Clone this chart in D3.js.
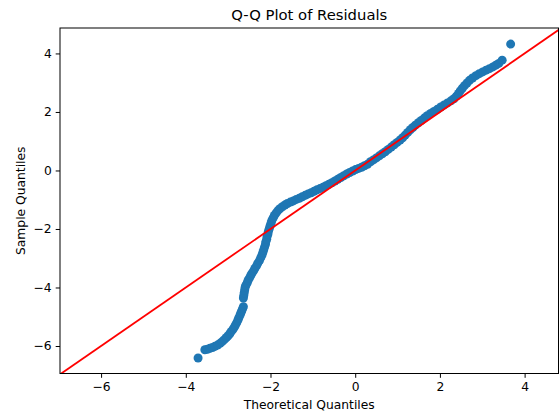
<!DOCTYPE html>
<html>
<head>
<meta charset="utf-8">
<script src="https://cdn.jsdelivr.net/npm/d3@7"></script>
<style>
body { margin: 0; background: #fff; }
svg text { font-family: 'DejaVu Sans', sans-serif; fill: #000; }
</style>
</head>
<body>
<script>
(function(document, window){
'use strict';

// sorted residuals against normal quantiles
var theoreticalQ = [-3.71, -3.55, -3.49, -3.43, -3.37, -3.31, -3.25, -3.19, -3.14, -3.09,
	-3.04, -3.00, -2.96, -2.93, -2.89, -2.86, -2.83, -2.80, -2.77, -2.75,
	-2.72, -2.70, -2.68, -2.66, -2.64, -2.64, -2.63, -2.62, -2.61, -2.60,
	-2.58, -2.55, -2.53, -2.50, -2.47, -2.44, -2.40, -2.37, -2.33, -2.30,
	-2.26, -2.23, -2.20, -2.18, -2.16, -2.14, -2.12, -2.11, -2.09, -2.08,
	-2.06, -2.05, -2.03, -2.01, -1.99, -1.97, -1.94, -1.91, -1.87, -1.83,
	-1.78, -1.72, -1.66, -1.60, -1.53, -1.46, -1.39, -1.32, -1.25, -1.18,
	-1.11, -1.04, -0.97, -0.90, -0.83, -0.76, -0.69, -0.62, -0.55, -0.48,
	-0.41, -0.34, -0.27, -0.20, -0.13, -0.06, 0.01, 0.08, 0.15, 0.22,
	0.29, 0.36, 0.43, 0.50, 0.57, 0.64, 0.71, 0.78, 0.85, 0.92,
	0.99, 1.06, 1.12, 1.18, 1.24, 1.30, 1.36, 1.42, 1.49, 1.56,
	1.63, 1.70, 1.78, 1.86, 1.94, 2.02, 2.10, 2.18, 2.26, 2.33,
	2.39, 2.44, 2.48, 2.53, 2.58, 2.64, 2.70, 2.77, 2.85, 2.93,
	3.01, 3.09, 3.17, 3.25, 3.32, 3.39, 3.47, 3.67];

var sampleQ = [-6.41, -6.13, -6.11, -6.08, -6.05, -6.01, -5.97, -5.91, -5.85, -5.78,
	-5.71, -5.65, -5.58, -5.51, -5.44, -5.37, -5.29, -5.21, -5.12, -5.04,
	-4.95, -4.87, -4.80, -4.73, -4.66, -4.36, -4.27, -4.18, -4.09, -4.00,
	-3.92, -3.84, -3.76, -3.68, -3.60, -3.52, -3.43, -3.35, -3.26, -3.17,
	-3.08, -2.98, -2.89, -2.80, -2.71, -2.62, -2.53, -2.44, -2.35, -2.26,
	-2.17, -2.08, -1.99, -1.90, -1.81, -1.72, -1.63, -1.54, -1.46, -1.38,
	-1.31, -1.24, -1.18, -1.13, -1.08, -1.04, -0.99, -0.95, -0.90, -0.85,
	-0.80, -0.76, -0.71, -0.66, -0.62, -0.57, -0.52, -0.47, -0.42, -0.36,
	-0.30, -0.24, -0.18, -0.12, -0.07, -0.02, 0.03, 0.07, 0.11, 0.16,
	0.21, 0.30, 0.36, 0.43, 0.50, 0.57, 0.64, 0.72, 0.80, 0.88,
	0.96, 1.04, 1.12, 1.21, 1.30, 1.39, 1.47, 1.55, 1.63, 1.71,
	1.79, 1.87, 1.95, 2.02, 2.09, 2.17, 2.24, 2.31, 2.38, 2.45,
	2.54, 2.63, 2.72, 2.81, 2.90, 2.99, 3.08, 3.16, 3.24, 3.31,
	3.37, 3.43, 3.48, 3.54, 3.60, 3.66, 3.77, 4.32];

var xTicks = [-6, -4, -2, 0, 2, 4];
var yTicks = [-6, -4, -2, 0, 2, 4];
var xDomain = [-6.97, 4.80];
var yDomain = [-6.94, 4.87];
var lineEnds = [-6.97, 4.87];

var width = 559, height = 416;
var left = 60, top = 28, right = 558.5, bottom = 373.5;

var svg = d3.select('body').append('svg')
	.attr('width', width)
	.attr('height', height);

var x = d3.scaleLinear().domain(xDomain).range([left, right]);
var y = d3.scaleLinear().domain(yDomain).range([bottom, top]);

svg.append('defs').append('clipPath')
	.attr('id', 'plotArea')
	.append('rect')
	.attr('x', left)
	.attr('y', top)
	.attr('width', right - left)
	.attr('height', bottom - top);

var points = theoreticalQ.map(function(t, i){ return {'t': t, 's': sampleQ[i]}; });

var plot = svg.append('g').attr('clip-path', 'url(#plotArea)');

plot.selectAll('circle')
	.data(points)
	.enter()
	.append('circle')
	.attr('cx', function(d){ return x(d.t); })
	.attr('cy', function(d){ return y(d.s); })
	.attr('r', 4.5)
	.attr('fill', '#1f77b4');

plot.append('line')
	.attr('x1', x(lineEnds[0]))
	.attr('y1', y(lineEnds[0]))
	.attr('x2', x(lineEnds[1]))
	.attr('y2', y(lineEnds[1]))
	.attr('stroke', '#ff0000')
	.attr('stroke-width', 1.8);

var xAxis = svg.append('g')
	.attr('transform', 'translate(0,' + bottom + ')')
	.call(d3.axisBottom(x).tickValues(xTicks).tickSize(4.3).tickPadding(4).tickFormat(d3.format('d')));

var yAxis = svg.append('g')
	.attr('transform', 'translate(' + left + ',0)')
	.call(d3.axisLeft(y).tickValues(yTicks).tickSize(4.3).tickPadding(4).tickFormat(d3.format('d')));

[xAxis, yAxis].forEach(function(a){
	a.select('.domain').remove();
	a.selectAll('.tick line').attr('stroke', '#000').attr('stroke-width', 1);
	a.selectAll('.tick text')
		.attr('fill', '#000')
		.style('font-size', '12.3px')
		.style('font-family', "'DejaVu Sans', sans-serif");
});

// axes frame
svg.append('rect')
	.attr('x', left)
	.attr('y', top)
	.attr('width', right - left)
	.attr('height', bottom - top)
	.attr('fill', 'none')
	.attr('stroke', '#000')
	.attr('stroke-width', 1);

svg.append('text')
	.attr('x', (left + right) / 2)
	.attr('y', 20)
	.attr('text-anchor', 'middle')
	.style('font-size', '14.8px')
	.text('Q-Q Plot of Residuals');

svg.append('text')
	.attr('x', (left + right) / 2)
	.attr('y', 409)
	.attr('text-anchor', 'middle')
	.style('font-size', '12.3px')
	.text('Theoretical Quantiles');

svg.append('text')
	.attr('transform', 'translate(25,' + ((top + bottom) / 2) + ') rotate(-90)')
	.attr('text-anchor', 'middle')
	.style('font-size', '12.3px')
	.text('Sample Quantiles');

})(document, window);
</script>
</body>
</html>
